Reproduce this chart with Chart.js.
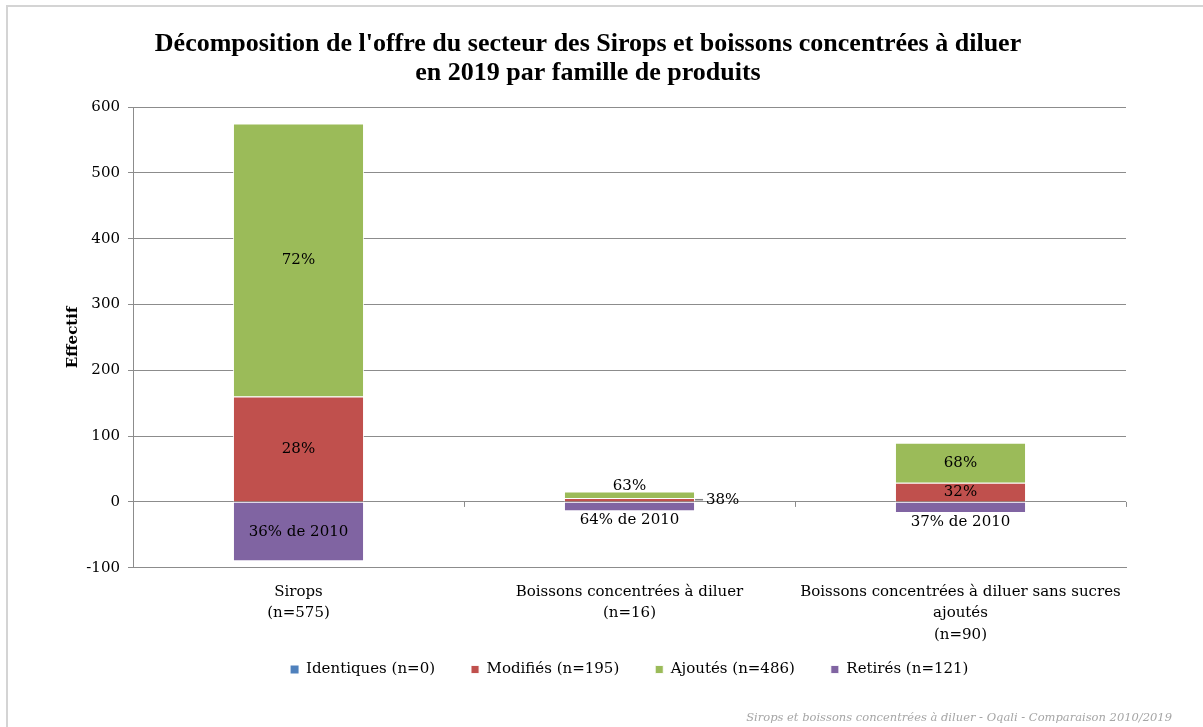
<!DOCTYPE html>
<html lang="fr">
<head>
<meta charset="utf-8">
<title>Offre Sirops 2019</title>
<script src="https://cdn.jsdelivr.net/npm/chart.js@4"></script>
<style>
  html, body { margin: 0; padding: 0; background: #fff; }
</style>
</head>
<body>
<canvas id="graf" width="1203" height="727"></canvas>
<script>
// données
const categories = [
  ["Sirops", "(n=575)"],
  ["Boissons concentrées à diluer", "(n=16)"],
  ["Boissons concentrées à diluer sans sucres", "ajoutés", "(n=90)"]
];
const identiques = [0, 0, 0];
const modifies = [160, 6, 29];
const ajoutes = [415, 10, 61];
const retires = [-90, -14, -17];

const pctModifies = ["28%", "38%", "32%"];
const pctAjoutes = ["72%", "63%", "68%"];
const pctRetires = ["36% de 2010", "64% de 2010", "37% de 2010"];

const titre = [
  "Décomposition de l'offre du secteur des Sirops et boissons concentrées à diluer",
  "en 2019 par famille de produits"
];
const source = "Sirops et boissons concentrées à diluer - Oqali - Comparaison 2010/2019";

const police = "'DejaVu Serif', serif";
const gris = "#8c8c8c";

//* titre, cadre et source
const decor = {
  id: "decor",
  beforeDraw(chart) {
    const ctx = chart.ctx;
    ctx.save();
    ctx.strokeStyle = "#d4d4d4";
    ctx.lineWidth = 2;
    ctx.beginPath();
    ctx.moveTo(7, 727);
    ctx.lineTo(7, 6);
    ctx.lineTo(1203, 6);
    ctx.stroke();
    ctx.restore();
  },
  afterDraw(chart) {
    const ctx = chart.ctx;
    ctx.save();
    ctx.fillStyle = "#000";
    ctx.textAlign = "center";
    ctx.textBaseline = "middle";
    ctx.font = "bold 26px 'Liberation Serif', serif";
    ctx.fillText(titre[0], 588, 44);
    ctx.fillText(titre[1], 588, 73);

    ctx.font = "italic 11.5px " + police;
    ctx.fillStyle = "#a6a6a6";
    ctx.textAlign = "right";
    ctx.fillText(source, 1172, 718);

    // petites graduations sur la ligne du zéro
    const x = chart.scales.x, y = chart.scales.y;
    const y0 = y.getPixelForValue(0);
    ctx.strokeStyle = gris;
    ctx.lineWidth = 1;
    const n = categories.length;
    for (let i = 1; i <= n; i++) {
      const px = Math.round(x.left + i * x.width / n) + 0.5;
      ctx.beginPath();
      ctx.moveTo(px, y0);
      ctx.lineTo(px, y0 + 5);
      ctx.stroke();
    }
    ctx.restore();
  }
};

//* pourcentages sur les barres
const etiquettes = {
  id: "etiquettes",
  afterDatasetsDraw(chart) {
    const ctx = chart.ctx;
    ctx.save();
    ctx.font = "15px " + police;
    ctx.fillStyle = "#000";
    chart.data.datasets.forEach((ds, i) => {
      if (!ds.pct) return;
      chart.getDatasetMeta(i).data.forEach((bar, j) => {
        const txt = ds.pct[j];
        const haut = Math.min(bar.y, bar.base);
        const bas = Math.max(bar.y, bar.base);
        ctx.textAlign = "center";
        if (bas - haut >= 17) {
          ctx.textBaseline = "middle";
          ctx.fillText(txt, bar.x, (haut + bas) / 2);
        } else if (ds.sens === "haut") {
          ctx.textBaseline = "bottom";
          ctx.fillText(txt, bar.x, haut + 2);
        } else if (ds.sens === "bas") {
          ctx.textBaseline = "top";
          ctx.fillText(txt, bar.x, bas + 1);
        } else {
          const xd = bar.x + bar.width / 2;
          const ym = (haut + bas) / 2;
          ctx.strokeStyle = "#7f7f7f";
          ctx.lineWidth = 1.5;
          ctx.beginPath();
          ctx.moveTo(xd, ym);
          ctx.lineTo(xd + 8, ym);
          ctx.stroke();
          ctx.textAlign = "left";
          ctx.textBaseline = "middle";
          ctx.fillText(txt, xd + 11, ym);
        }
      });
    });
    ctx.restore();
  }
};

const config = {
  type: "bar",
  data: {
    labels: categories,
    datasets: [
      { label: "Identiques (n=0)", data: identiques, backgroundColor: "#4f81bd", borderWidth: 0 },
      { label: "Modifiés (n=195)", data: modifies, backgroundColor: "#c0504d", pct: pctModifies, sens: "droite" },
      { label: "Ajoutés (n=486)", data: ajoutes, backgroundColor: "#9bbb59", pct: pctAjoutes, sens: "haut" },
      { label: "Retirés (n=121)", data: retires, backgroundColor: "#8064a2", pct: pctRetires, sens: "bas" }
    ]
  },
  options: {
    responsive: false,
    animation: false,
    devicePixelRatio: 1,
    datasets: {
      bar: {
        categoryPercentage: 1,
        barPercentage: 0.396,
        borderColor: "rgba(255,255,255,0.85)",
        borderWidth: 1
      }
    },
    layout: { padding: { top: 107, left: 60, right: 77, bottom: 40 } },
    scales: {
      x: {
        stacked: true,
        grid: { display: false },
        border: { color: gris },
        ticks: {
          color: "#000",
          padding: 5,
          maxRotation: 0,
          font: { family: police, size: 15, lineHeight: 1.45 }
        },
        afterFit(scale) {
          // on remonte la légende, sans couper les libellés sur 3 lignes
          scale.height -= 25;
          scale._computeLabelArea = () => undefined;
        }
      },
      y: {
        stacked: true,
        min: -100,
        max: 600,
        ticks: {
          stepSize: 100,
          color: "#000",
          padding: 8,
          font: { family: police, size: 15 }
        },
        grid: { color: gris, tickLength: 5 },
        border: { color: gris },
        title: {
          display: true,
          text: "Effectif",
          color: "#000",
          padding: { top: 4, bottom: 0 },
          font: { family: police, size: 15, weight: "bold" }
        },
        afterFit(scale) { scale.width = 73; }
      }
    },
    plugins: {
      title: { display: false },
      tooltip: { enabled: false },
      legend: {
        position: "bottom",
        fullSize: false,
        labels: {
          boxWidth: 8,
          boxHeight: 8,
          padding: 36,
          color: "#000",
          font: { family: police, size: 15 }
        }
      }
    }
  },
  plugins: [decor, etiquettes]
};

new Chart(document.getElementById("graf"), config);
</script>
</body>
</html>
